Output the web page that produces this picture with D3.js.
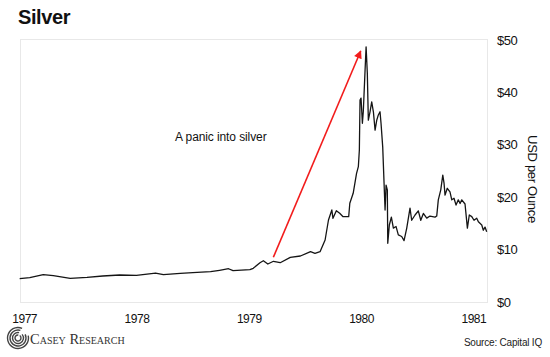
<!DOCTYPE html>
<html>
<head>
<meta charset="utf-8">
<script src="https://cdn.jsdelivr.net/npm/d3@7"></script>
<style>
  html, body { margin: 0; padding: 0; background: #fff; }
  svg { display: block; font-family: "Liberation Sans", Arial, sans-serif; }
</style>
</head>
<body>
<svg id="chart" width="550" height="357"></svg>
<script>
// ---- data (fractional years, USD per ounce) ----
const dates = [
  1976.96, 1977.05, 1977.17, 1977.26, 1977.41, 1977.56, 1977.70, 1977.85, 1978.00, 1978.17,
  1978.24, 1978.39, 1978.54, 1978.66, 1978.74, 1978.82, 1978.86, 1979.01, 1979.04, 1979.10,
  1979.13, 1979.17, 1979.22, 1979.28, 1979.37, 1979.46, 1979.55, 1979.59, 1979.635, 1979.68,
  1979.71, 1979.74, 1979.75, 1979.78, 1979.81, 1979.84, 1979.89, 1979.90, 1979.93, 1979.96,
  1979.976, 1979.985, 1979.991, 1980.000, 1980.012, 1980.020, 1980.036, 1980.045, 1980.056, 1980.065,
  1980.080, 1980.095, 1980.110, 1980.125, 1980.140, 1980.154, 1980.169, 1980.178, 1980.193, 1980.205,
  1980.214, 1980.223, 1980.234, 1980.238, 1980.252, 1980.270, 1980.288, 1980.312, 1980.332, 1980.362,
  1980.383, 1980.407, 1980.436, 1980.451, 1980.481, 1980.510, 1980.532, 1980.555, 1980.585, 1980.614,
  1980.659, 1980.674, 1980.688, 1980.710, 1980.728, 1980.739, 1980.748, 1980.768, 1980.792, 1980.808,
  1980.828, 1980.846, 1980.866, 1980.882, 1980.897, 1980.926, 1980.947, 1980.964, 1980.986, 1981.006,
  1981.030, 1981.045, 1981.075, 1981.089, 1981.104, 1981.119
];
const prices = [
  4.45, 4.64, 5.21, 5.02, 4.52, 4.71, 4.96, 5.15, 5.10, 5.53,
  5.21, 5.48, 5.67, 5.78, 6.05, 6.35, 5.97, 6.16, 6.43, 7.50,
  7.88, 7.25, 7.77, 7.50, 8.53, 8.78, 9.60, 9.29, 9.60, 11.83,
  15.65, 17.56, 15.97, 17.42, 16.93, 16.28, 16.28, 18.84, 20.74, 24.56,
  25.82, 29.0, 38.55, 38.9, 34.1, 36.3, 44.3, 48.7, 43.6, 34.7,
  36.3, 38.2, 36.3, 32.8, 34.7, 35.7, 36.3, 34.1, 29.6, 22.65,
  17.56, 22.3, 21.4, 11.2, 14.7, 16.2, 14.1, 14.4, 12.8, 12.5,
  11.7, 14.1, 17.9, 15.6, 16.6, 17.4, 15.6, 16.9, 16.0, 16.4,
  16.2, 16.4, 19.5, 21.4, 24.2, 22.7, 20.4, 21.7, 21.0, 19.5,
  19.8, 18.5, 19.5, 18.8, 19.5, 18.7, 14.1, 16.6, 16.3, 15.6,
  16.0, 15.3, 14.7, 13.7, 14.3, 13.4
];
const yearTicks = [1977, 1978, 1979, 1980, 1981];
const priceTicks = [0, 10, 20, 30, 40, 50];
const title = "Silver";
const yTitle = "USD per Ounce";
const note = "A panic into silver";
const noteAt = [1978.344, 30.7];
const arrowFrom = [1979.219, 8.53];
const arrowTo = [1979.997, 47.9];
const source = "Source: Capital IQ";
const brand = "Casey Research";

// ---- layout ----
const svg = d3.select("#chart");
const frame = { left: 20, top: 39, right: 487, bottom: 302 };

const x = d3.scaleLinear().domain([1976.963, 1981.119]).range([20, 486.7]);
const y = d3.scaleLinear().domain([0, 50]).range([302, 40]);

// frame
svg.append("rect")
  .attr("x", frame.left + 0.5).attr("y", frame.top + 0.5)
  .attr("width", frame.right - frame.left).attr("height", frame.bottom - frame.top)
  .attr("fill", "none").attr("stroke", "#e8e8e8").attr("stroke-width", 1);

// title
svg.append("text").attr("x", 18).attr("y", 23.5)
  .attr("font-size", 20).attr("font-weight", "bold")
  .attr("letter-spacing", -0.4).attr("fill", "#111").text(title);

// x axis
const xAxis = svg.append("g").attr("transform", `translate(0,${frame.bottom})`)
  .call(d3.axisBottom(x).tickValues(yearTicks).tickFormat(d3.format("d")).tickSize(0).tickPadding(12));
xAxis.select(".domain").remove();
xAxis.selectAll("text").attr("font-size", 12).attr("letter-spacing", -0.5)
  .attr("fill", "#111").attr("font-family", "Liberation Sans, Arial, sans-serif");

// y axis (right)
const yAxis = svg.append("g").attr("transform", `translate(${frame.right},0)`)
  .call(d3.axisRight(y).tickValues(priceTicks).tickFormat(d => "$" + d).tickSize(0).tickPadding(10));
yAxis.select(".domain").remove();
yAxis.selectAll("text").attr("font-size", 13).attr("letter-spacing", -0.5)
  .attr("fill", "#111").attr("font-family", "Liberation Sans, Arial, sans-serif");

// y title
svg.append("text")
  .attr("transform", `translate(528,${(y(0) + y(50)) / 2 + 8}) rotate(90)`)
  .attr("text-anchor", "middle").attr("font-size", 13).attr("letter-spacing", -0.3)
  .attr("fill", "#111").text(yTitle);

// line
const pts = dates.map((d, i) => [d, prices[i]]);
svg.append("path").datum(pts)
  .attr("fill", "none").attr("stroke", "#151515").attr("stroke-width", 1.3)
  .attr("stroke-linejoin", "round")
  .attr("d", d3.line().x(d => x(d[0])).y(d => y(d[1])));

// arrow
const defs = svg.append("defs");
defs.append("marker").attr("id", "ah")
  .attr("viewBox", "0 0 10 10").attr("refX", 9).attr("refY", 5)
  .attr("markerWidth", 6).attr("markerHeight", 5).attr("orient", "auto")
  .attr("markerUnits", "strokeWidth")
  .append("path").attr("d", "M0,0 L10,5 L0,10 Z").attr("fill", "#f21c1c");
svg.append("line")
  .attr("x1", x(arrowFrom[0])).attr("y1", y(arrowFrom[1]))
  .attr("x2", x(arrowTo[0])).attr("y2", y(arrowTo[1]))
  .attr("stroke", "#f21c1c").attr("stroke-width", 1.6)
  .attr("marker-end", "url(#ah)");

// annotation
svg.append("text").attr("x", x(noteAt[0])).attr("y", y(noteAt[1]))
  .attr("font-size", 12).attr("letter-spacing", -0.1).attr("fill", "#111").text(note);

// source
svg.append("text").attr("x", 542).attr("y", 345.5).attr("text-anchor", "end")
  .attr("font-size", 10).attr("letter-spacing", -0.2).attr("fill", "#222").text(source);

// brand logo
const logo = svg.append("g").attr("transform", "translate(18,338)");
[3, 5.5, 8, 10.5].forEach((r, i) => {
  logo.append("path")
    .attr("d", d3.arc()({ innerRadius: r - 0.7, outerRadius: r + 0.7,
      startAngle: 0.6 + i * 0.25, endAngle: 2 * Math.PI + 0.1 + i * 0.1 }))
    .attr("fill", "#444");
});
svg.append("text").attr("x", 30).attr("y", 343.5)
  .attr("font-family", "Liberation Serif, Times New Roman, serif")
  .attr("font-size", 14.5).attr("font-variant", "small-caps")
  .attr("fill", "#333").text(brand);
</script>
</body>
</html>
